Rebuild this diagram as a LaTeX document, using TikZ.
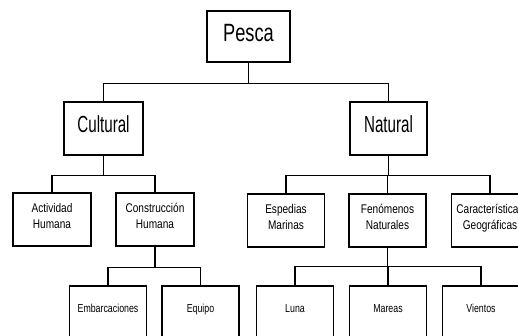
\documentclass[tikz,border=0pt]{standalone}
\usepackage{fontspec}
\setmainfont{Liberation Sans}
\newfontfamily\fbig[FakeStretch=0.73]{Liberation Sans}
\newfontfamily\fmid[FakeStretch=0.65]{Liberation Sans}
\newfontfamily\fsmall[FakeStretch=0.8]{Liberation Sans}
\newfontfamily\fleaf[FakeStretch=0.76]{Liberation Sans}
\begin{document}
\begin{tikzpicture}[x=1pt,y=-1pt,
  box/.style={draw,line width=1.3pt,inner sep=0pt,align=center,minimum width=77pt,minimum height=53pt,font=\fsmall\fontsize{12.6}{16}\selectfont,
    execute at end node={\rule[-8pt]{0pt}{8pt}}},
  leafbox/.style={box,font=\fleaf\fontsize{11.6}{14}\selectfont,
    execute at end node={\rule[-3pt]{0pt}{3pt}}},
  midbox/.style={box,font=\fmid\fontsize{23.3}{26}\selectfont,execute at end node={}},
  topbox/.style={box,minimum width=83pt,minimum height=51pt,font=\fbig\fontsize{25}{28}\selectfont,execute at end node={}},
  conn/.style={line width=1.3pt}]
\useasboundingbox (0,0) rectangle (518,335);
\clip (0,0) rectangle (518,335);
\fill[white] (0,0) rectangle (518,335);
\node[topbox] (pesca) at (248.5,36.5) {Pesca};
\node[midbox,minimum width=79pt] (cultural) at (103.5,128.5) {Cultural};
\node[midbox] (natural) at (388.5,128.5) {Natural};
\node[box,minimum width=78pt] (actividad) at (52,219.5) {Actividad\\Humana};
\node[box,minimum width=78pt] (construccion) at (155,219.5) {Construcción\\Humana};
\node[box] (espedias) at (286,220.5) {Espedias\\Marinas};
\node[box] (fenomenos) at (387.5,220.5) {Fenómenos\\Naturales};
\node[box] (caracteristicas) at (490,220.5) {Características\\Geográficas};
\node[leafbox] (embarcaciones) at (108,312.5) {Embarcaciones};
\node[leafbox] (equipo) at (200.5,312.5) {Equipo};
\node[leafbox] (luna) at (295,312.5) {Luna};
\node[leafbox] (mareas) at (388,312.5) {Mareas};
\node[leafbox] (vientos) at (481,312.5) {Vientos};
% connectors
\draw[conn] (pesca.south) -- ++(0,21) -| (cultural.north);
\draw[conn] (pesca.south) ++(0,21) -| (natural.north);
\draw[conn] (cultural.south) -- ++(0,20) -| (actividad.north);
\draw[conn] (cultural.south) ++(0,20) -| (construccion.north);
\draw[conn] (natural.south) -- ++(0,20) -| (espedias.north);
\draw[conn] (natural.south) ++(0,20) -| (fenomenos.north);
\draw[conn] (natural.south) ++(0,20) -| (caracteristicas.north);
\draw[conn] (construccion.south) -- ++(0,21) -| (embarcaciones.north);
\draw[conn] (construccion.south) ++(0,21) -| (equipo.north);
\draw[conn] (fenomenos.south) -- ++(0,19) -| (luna.north);
\draw[conn] (fenomenos.south) ++(0,19) -| (mareas.north);
\draw[conn] (fenomenos.south) ++(0,19) -| (vientos.north);
\end{tikzpicture}
\end{document}
